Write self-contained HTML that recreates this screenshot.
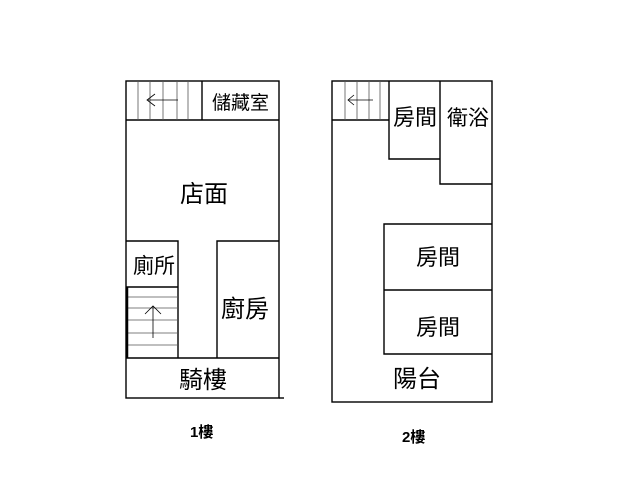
<!DOCTYPE html><html><head><style>body{margin:0;background:#fff}svg{display:block}text{font-family:"Liberation Sans","Noto Sans CJK TC",sans-serif;fill:#000}</style></head><body>
<svg width="640" height="480" viewBox="0 0 640 480">
<g stroke="#000" stroke-width="1.4" fill="none">
<rect x="126" y="81" width="153" height="317"/>
<line x1="279" y1="398" x2="284" y2="398"/>
<line x1="126" y1="120" x2="279" y2="120"/>
<line x1="202" y1="81" x2="202" y2="120"/>
<g stroke-width="0.8" stroke="#555"><line x1="138" y1="81" x2="138" y2="120"/><line x1="150" y1="81" x2="150" y2="120"/><line x1="163" y1="81" x2="163" y2="120"/><line x1="177" y1="81" x2="177" y2="120"/><line x1="188" y1="81" x2="188" y2="120"/></g>
<line x1="148" y1="100" x2="178" y2="100" stroke-width="0.8"/>
<polyline points="155,94 147,100 155,106" stroke-width="0.8"/>
<polyline points="126,241 178,241 178,358"/>
<line x1="126" y1="287" x2="178" y2="287"/>
<g stroke-width="0.8" stroke="#555"><line x1="126" y1="297" x2="178" y2="297"/><line x1="126" y1="308" x2="178" y2="308"/><line x1="126" y1="320" x2="178" y2="320"/><line x1="126" y1="333" x2="178" y2="333"/><line x1="126" y1="345" x2="178" y2="345"/></g>
<line x1="127" y1="287" x2="127" y2="358" stroke-width="2.5"/>
<line x1="153" y1="306" x2="153" y2="338" stroke-width="0.8"/>
<polyline points="145,314 153,306 161,314" stroke-width="0.8"/>
<polyline points="217,358 217,241 279,241"/>
<line x1="126" y1="358" x2="279" y2="358"/>

<rect x="332" y="81" width="160" height="321"/>
<polyline points="332,120 389,120"/>
<g stroke-width="0.8" stroke="#555"><line x1="345" y1="81" x2="345" y2="120"/><line x1="357" y1="81" x2="357" y2="120"/><line x1="369" y1="81" x2="369" y2="120"/><line x1="380" y1="81" x2="380" y2="120"/></g>
<line x1="348" y1="100" x2="373" y2="100" stroke-width="0.8"/>
<polyline points="354,95 348,100 354,105" stroke-width="0.8"/>
<polyline points="389,81 389,159 440,159"/>
<polyline points="440,81 440,184 492,184"/>
<polyline points="492,224 384,224 384,354 492,354"/>
<line x1="384" y1="290" x2="492" y2="290"/>
</g>
<g>
<text x="212" y="109" font-size="19">儲藏室</text>
<text x="180" y="202" font-size="24">店面</text>
<text x="133" y="273" font-size="21">廁所</text>
<text x="221" y="317" font-size="24">廚房</text>
<text x="179" y="388" font-size="24">騎樓</text>
<text x="393" y="125" font-size="22">房間</text>
<text x="447" y="125" font-size="21">衛浴</text>
<text x="416" y="265" font-size="22">房間</text>
<text x="416" y="335" font-size="22">房間</text>
<text x="393" y="387" font-size="24">陽台</text>
<text x="190" y="437" font-size="15" font-weight="bold">1樓</text>
<text x="402" y="442" font-size="15" font-weight="bold">2樓</text>
</g>
</svg></body></html>
